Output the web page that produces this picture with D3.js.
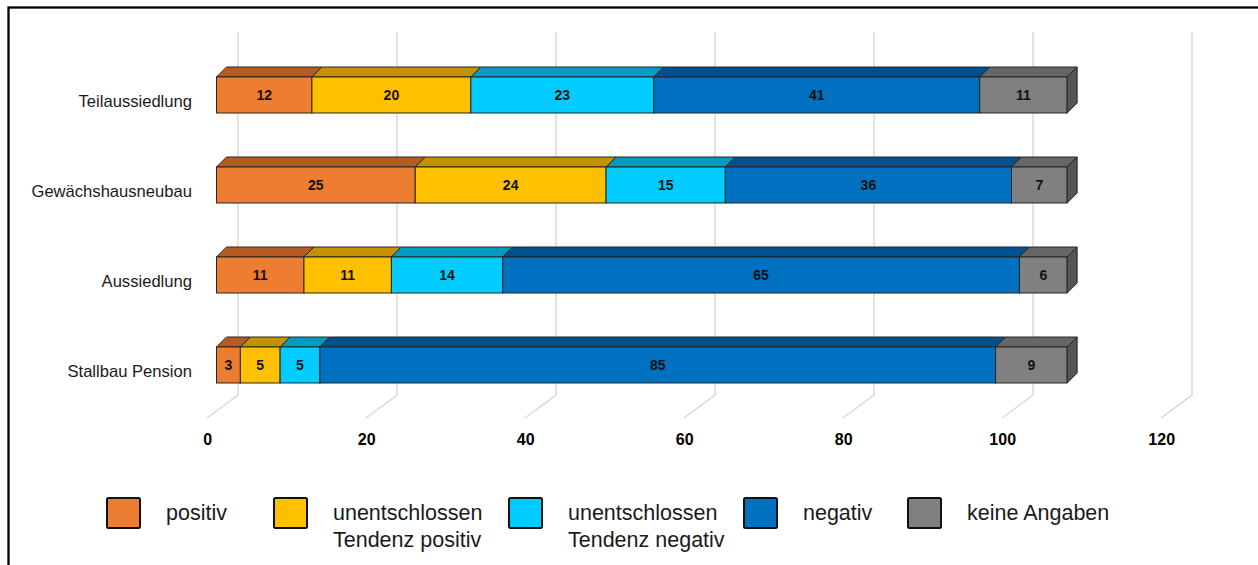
<!DOCTYPE html>
<html><head><meta charset="utf-8">
<script src="https://cdn.jsdelivr.net/npm/d3@7"></script>
<style>html,body{margin:0;padding:0;background:#fff}svg{display:block;font-family:"Liberation Sans",Arial,Helvetica,sans-serif}</style>
</head><body><svg id="c" width="1258" height="565"></svg>
<script>
// ---- data ----
const categories = ["Teilaussiedlung", "Gewächshausneubau", "Aussiedlung", "Stallbau Pension"];
const seriesNames = ["positiv", "unentschlossen Tendenz positiv", "unentschlossen Tendenz negativ", "negativ", "keine Angaben"];
const seriesLabelLines = [["positiv"], ["unentschlossen", "Tendenz positiv"], ["unentschlossen", "Tendenz negativ"], ["negativ"], ["keine Angaben"]];
const positiv          = [12, 25, 11, 3];
const tendenzPositiv   = [20, 24, 11, 5];
const tendenzNegativ   = [23, 15, 14, 5];
const negativ          = [41, 36, 65, 85];
const keineAngaben     = [11, 7, 6, 9];
const tickValues = [0, 20, 40, 60, 80, 100, 120];

// ---- styling ----
const frontColors = ["#ED7D31", "#FFC000", "#00CCFF", "#0070C0", "#808080"];
const topColors   = ["#B65C22", "#C29200", "#049BC2", "#00508E", "#666666"];
const sideColors  = ["#9A4C1B", "#A57C00", "#0382A3", "#00437A", "#555555"];
const edge = "#262626";

const svg = d3.select("#c");
// outer frame (open at right/bottom edges of picture)
svg.append("rect").attr("x", 8.5).attr("y", 7.5).attr("width", 1400).attr("height", 700)
  .attr("fill", "none").attr("stroke", "#000").attr("stroke-width", 2.3);

const x = d3.scaleLinear().domain([0, 120]).range([216.5, 1170.5]);
const y = d3.scaleBand().domain(categories).range([50, 410]).paddingInner(0.6).paddingOuter(0.3);

const backDX = 21.5, backTop = 32, backBottom = 395;
const floorDX = -9.5, floorY = 418;
const depth = 10;

// back wall grid + floor diagonals
const grid = svg.append("g");
tickValues.forEach(v => {
  const bx = x(v) + backDX, fx = x(v) + floorDX;
  grid.append("path")
    .attr("d", `M${bx},${backTop}L${bx},${backBottom}L${fx},${floorY}`)
    .attr("fill", "none").attr("stroke", "#d9d9d9").attr("stroke-width", 1.5);
});

// tick labels
svg.append("g").selectAll("text").data(tickValues).join("text")
  .attr("x", d => x(d) + floorDX + 0.7).attr("y", 445)
  .attr("text-anchor", "middle").attr("font-size", 16).attr("font-weight", "bold")
  .attr("fill", "#000").text(d => d);

// stacked data
const table = categories.map((c, i) => ({
  cat: c,
  values: [positiv[i], tendenzPositiv[i], tendenzNegativ[i], negativ[i], keineAngaben[i]]
}));

const bars = svg.append("g");
table.forEach(row => {
  let acc = 0;
  const y0 = y(row.cat), h = y.bandwidth();
  const segs = row.values.map((v, k) => { const s = {k, v, a: acc, b: acc + v}; acc += v; return s; });
  segs.forEach(s => {
    const x0 = x(s.a), x1 = x(s.b);
    const g = bars.append("g");
    g.append("path")
      .attr("d", `M${x0},${y0}L${x0 + depth},${y0 - depth}L${x1 + depth},${y0 - depth}L${x1},${y0}Z`)
      .attr("fill", topColors[s.k]).attr("stroke", edge).attr("stroke-width", 1).attr("stroke-linejoin", "round");
    g.append("rect").attr("x", x0).attr("y", y0).attr("width", x1 - x0).attr("height", h)
      .attr("fill", frontColors[s.k]).attr("stroke", edge).attr("stroke-width", 1);
    g.append("text").attr("x", (x0 + x1) / 2).attr("y", y0 + h / 2).attr("dy", "0.36em")
      .attr("text-anchor", "middle").attr("font-size", 14).attr("font-weight", "bold")
      .attr("fill", "#111").text(s.v);
  });
  const last = segs[segs.length - 1];
  const xe = x(last.b);
  bars.append("path")
    .attr("d", `M${xe},${y0}L${xe + depth},${y0 - depth}L${xe + depth},${y0 + h - depth}L${xe},${y0 + h}Z`)
    .attr("fill", sideColors[last.k]).attr("stroke", edge).attr("stroke-width", 1).attr("stroke-linejoin", "round");
});

// category labels
svg.append("g").selectAll("text").data(categories).join("text")
  .attr("x", 192).attr("y", d => y(d) + y.bandwidth() / 2 + 6).attr("dy", "0.36em")
  .attr("text-anchor", "end").attr("font-size", 16.6).attr("fill", "#1a1a1a").text(d => d);

// legend
const legendX = [107, 274, 509, 744, 908];
const legend = svg.append("g");
seriesNames.forEach((n, k) => {
  const lx = legendX[k];
  legend.append("rect").attr("x", lx).attr("y", 498).attr("width", 33).attr("height", 30).attr("rx", 1.5)
    .attr("fill", frontColors[k]).attr("stroke", "#111").attr("stroke-width", 2);
  const t = legend.append("text").attr("x", lx + 59).attr("y", 520).attr("font-size", 21.5).attr("fill", "#1a1a1a");
  seriesLabelLines[k].forEach((line, j) => {
    t.append("tspan").attr("x", lx + 59).attr("y", 520 + j * 27).text(line);
  });
});
</script>
</body></html>
